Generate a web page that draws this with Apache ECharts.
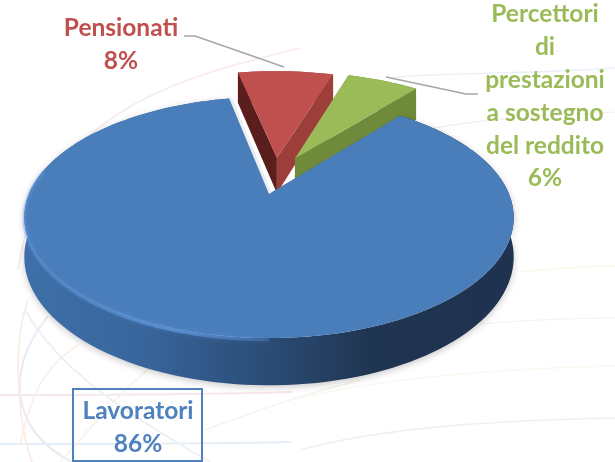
<!DOCTYPE html>
<html>
<head>
<meta charset="utf-8">
<style>html,body{margin:0;padding:0;background:#fff}#c{width:615px;height:462px}</style>
<script src="https://cdn.jsdelivr.net/npm/echarts@6/dist/echarts.min.js"></script>
</head>
<body>
<div id="c"></div>
<script>
var categories = ['Lavoratori', 'Pensionati', 'Percettori di prestazioni a sostegno del reddito'];
var values = [86, 8, 6];
var labelLines = [['Lavoratori', '86%'], ['Pensionati', '8%'], ['Percettori', 'di', 'prestazioni', 'a sostegno', 'del reddito', '6%']];

var firstAngle = 39;
var explodeU = [0, 0.035, 0.115];
var explodeV = [0, 0.335, 0.325];
var topColors = ['#4a7ebb', '#c0504d', '#9bbb59'];
var sideStart = ['#2f5a8e', '#5a1f1c', '#6f8a3a'];
var sideEnd = ['#2f5a8e', '#9c3f3b', '#6f8a3a'];
var textColors = ['#4f81bd', '#c0504d', '#9bbb59'];

var cx = 269, cy = 194, a = 240, b = 116, k = 0.195, depth = 38;
var total = values.reduce(function (s, v) { return s + v; }, 0);

function project(u, v, h) {
  var w = 1 + k * v;
  return [cx + a * u / w, cy - b * v / w + h * depth / w];
}
function polar(deg) { var r = deg * Math.PI / 180; return [Math.sin(r), Math.cos(r)]; }
function arcPoints(from, to, ou, ov, h) {
  var pts = [], n = Math.max(4, Math.ceil(Math.abs(to - from) / 2));
  for (var i = 0; i <= n; i++) {
    var p = polar(from + (to - from) * i / n);
    pts.push(project(p[0] + ou, p[1] + ov, h));
  }
  return pts;
}
var frontGradient = new echarts.graphic.LinearGradient(20, 0, 515, 0, [
  { offset: 0, color: '#3f70a9' }, { offset: 0.25, color: '#38659b' },
  { offset: 0.5, color: '#2b4c76' }, { offset: 0.72, color: '#1f3450' }, { offset: 1, color: '#1f3350' }
], true);
var highlight = new echarts.graphic.LinearGradient(20, 0, 320, 0, [
  { offset: 0, color: 'rgba(95,150,220,0.3)' }, { offset: 0.5, color: 'rgba(95,150,220,0.8)' }, { offset: 1, color: 'rgba(95,150,220,0)' }
], true);

function renderSlice(params, api) {
  var i = params.dataIndex;
  var before = 0;
  for (var j = 0; j < i; j++) before += values[j];
  var from = firstAngle + before / total * 360;
  var to = from + api.value(0) / total * 360;
  var ou = explodeU[i], ov = explodeV[i];
  var base = i === 0 ? 20 : 0;
  var A0 = project(ou, ov, 0), A1 = project(ou, ov, 1);
  var topArc = arcPoints(from, to, ou, ov, 0);
  var lowArc = arcPoints(from, to, ou, ov, 1);
  var S0 = topArc[0], S1 = lowArc[0], E0 = topArc[topArc.length - 1], E1 = lowArc[lowArc.length - 1];
  var kids = [];
  kids.push({
    type: 'polygon', z2: base + 1,
    shape: { points: topArc.concat(lowArc.slice().reverse()) },
    style: i === 0
      ? { fill: frontGradient, shadowBlur: 7, shadowColor: 'rgba(0,0,0,0.22)', shadowOffsetY: 2 }
      : { fill: sideEnd[i] }
  });
  kids.push({ type: 'polygon', z2: base + 2, shape: { points: [A0, S0, S1, A1] }, style: { fill: sideStart[i] } });
  kids.push({ type: 'polygon', z2: base + 3, shape: { points: [A0, E0, E1, A1] }, style: { fill: sideEnd[i] } });
  if (i === 0) {
    kids.push({ type: 'polyline', z2: base + 4, shape: { points: [A0, E0] }, style: { fill: null, stroke: '#eceef2', lineWidth: 6 } });
  }
  kids.push({ type: 'polygon', z2: base + 5, shape: { points: [A0].concat(topArc) }, style: { fill: topColors[i] } });
  if (i === 0) {
    kids.push({
      type: 'polyline', z2: base + 6,
      shape: { points: arcPoints(180, 282, ou, ov, 0.03) },
      style: { fill: null, stroke: highlight, lineWidth: 3.5, shadowBlur: 4, shadowColor: 'rgba(95,150,220,0.45)' }
    });
  }
  return { type: 'group', children: kids };
}

var bgCurves = [
  ['#f9e9ec', 1.6, [18, 270, 40, 110, 190, 75, 300, 48]],
  ['#e9f0f8', 1.4, [390, 78, 430, 72, 520, 75, 615, 68]],
  ['#f9ecec', 1.2, [425, 130, 480, 118, 560, 115, 615, 112]],
  ['#faf8ec', 1.4, [520, 272, 560, 268, 590, 266, 615, 266]],
  ['#f3f6f3', 1.5, [480, 324, 530, 320, 580, 318, 615, 318]],
  ['#faf9f0', 1.4, [300, 398, 400, 375, 520, 368, 615, 366]],
  ['#edf2f0', 1.6, [300, 450, 390, 425, 520, 420, 615, 418]],
  ['#f7e9eb', 2.0, [0, 395, 100, 395, 200, 395, 292, 392]],
  ['#e6eff6', 2.0, [0, 444, 100, 444, 200, 444, 292, 442]],
  ['#ebe9f2', 2.0, [48, 316, 5, 370, 10, 430, 72, 462]],
  ['#faece3', 1.8, [28, 300, 10, 350, 20, 430, 32, 462]],
  ['#faefe6', 1.6, [78, 345, 40, 370, 30, 400, 20, 445]],
  ['#e9f1f7', 1.6, [25, 310, 60, 370, 120, 410, 210, 462]],
  ['#f5f3ea', 1.6, [160, 360, 120, 390, 90, 430, 60, 462]],
  ['#f2f5ee', 1.4, [205, 430, 260, 410, 300, 395, 360, 380]]
];

var graphics = bgCurves.map(function (c) {
  var p = c[2];
  return {
    type: 'bezierCurve', z: 0, silent: true,
    shape: { x1: p[0], y1: p[1], cpx1: p[2], cpy1: p[3], cpx2: p[4], cpy2: p[5], x2: p[6], y2: p[7] },
    style: { fill: null, stroke: c[0], lineWidth: c[1] }
  };
});

var labelAnchors = [[138, 411], [121, 28], [545, 14]];
var lineStep = [33, 33, 32.9];
labelLines.forEach(function (lines, i) {
  lines.forEach(function (t, n) {
    graphics.push({
      type: 'text', z: 5, x: labelAnchors[i][0], y: labelAnchors[i][1] + n * lineStep[i],
      style: { text: t, fill: textColors[i], font: 'bold 24.5px Lato, "Open Sans", sans-serif', align: 'center', verticalAlign: 'middle' }
    });
  });
});
graphics.push({
  type: 'rect', z: 4, shape: { x: 73, y: 389, width: 129, height: 72 },
  style: { fill: null, stroke: '#4f81bd', lineWidth: 2 }
});
graphics.push({
  type: 'polyline', z: 4, shape: { points: [[184, 36], [195, 36], [284, 67]] },
  style: { fill: null, stroke: '#a6a6a6', lineWidth: 1.5 }
});
graphics.push({
  type: 'polyline', z: 4, shape: { points: [[386, 77], [466, 94], [478, 94]] },
  style: { fill: null, stroke: '#a6a6a6', lineWidth: 1.5 }
});

var chart = echarts.init(document.getElementById('c'), null, { renderer: 'canvas' });
chart.setOption({
  animation: false,
  backgroundColor: '#ffffff',
  graphic: { elements: graphics },
  series: [{
    type: 'custom',
    coordinateSystem: 'none',
    z: 2,
    silent: true,
    renderItem: renderSlice,
    data: values.map(function (v, i) { return { name: categories[i], value: [v] }; })
  }]
});
</script>
</body>
</html>
